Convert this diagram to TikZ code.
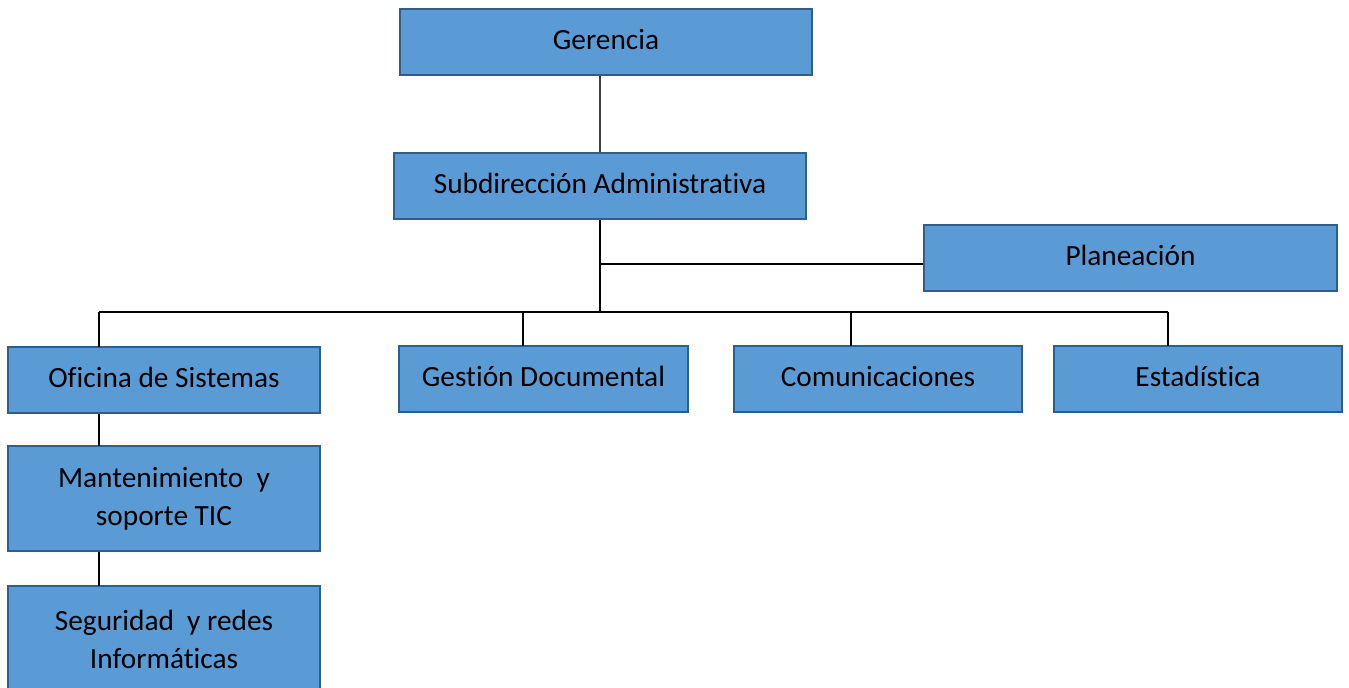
\documentclass[tikz,border=0pt]{standalone}
\usepackage{fontspec}
\setmainfont{Carlito}[Ligatures=CommonOff]
\definecolor{boxfill}{HTML}{5B9BD5}
\definecolor{boxline}{HTML}{2F5D8C}
\definecolor{greyline}{HTML}{404040}
\begin{document}
\begin{tikzpicture}[x=0.75pt,y=-0.75pt,
  box/.style={draw=boxline, fill=boxfill, line width=1.8pt, rectangle, inner sep=0pt,
    align=center, font=\fontsize{22}{28.5}\selectfont, text=black},
  onebox/.style={box, text height=15pt, text depth=3.5pt},
  conn/.style={draw=black, line width=1.1pt},
  gconn/.style={draw=greyline, line width=1.1pt}]
\useasboundingbox (0,0) rectangle (1349,687);
\clip (0,0) rectangle (1349,687);
\node[onebox, minimum width=309pt, minimum height=49.5pt] (ger) at (606,42) {Gerencia};
\node[onebox, minimum width=309pt, minimum height=49.5pt] (sub) at (600,186) {Subdirección Administrativa};
\node[onebox, minimum width=309.75pt, minimum height=49.5pt] (pla) at (1130.5,258) {Planeación};
\node[onebox, minimum width=234pt, minimum height=49.5pt] (ofi) at (164,380) {Oficina de Sistemas};
\node[onebox, minimum width=216.75pt, minimum height=49.5pt] (ges) at (543.5,379) {Gestión Documental};
\node[onebox, minimum width=216pt, minimum height=49.5pt] (com) at (878,379) {Comunicaciones};
\node[onebox, minimum width=216pt, minimum height=49.5pt] (est) at (1198,379) {Estadística};
\node[box, minimum width=234pt, minimum height=78.75pt] (man) at (164,498.5) {Mantenimiento\ \ y\\soporte TIC};
\node[box, minimum width=234pt, minimum height=79.5pt] (seg) at (164,639) {Seguridad\ \ y redes\\Informáticas};
\coordinate (bus) at (600,312);
\coordinate (pj) at (600,264);
\draw[gconn] (ger.south -| sub.south) -- (sub.north);
\draw[conn] (sub.south) -- (bus);
\draw[conn] (pj) -- (pj -| pla.west);
\draw[conn] (99,312) -- (1168,312);
\draw[conn] (99,312) -- (99,347);
\draw[conn] (523,312) -- (523,346);
\draw[conn] (851,312) -- (851,346);
\draw[conn] (1168,312) -- (1168,346);
\draw[conn] (99,413.5) -- (99,446);
\draw[conn] (99,551.5) -- (99,586);
\end{tikzpicture}
\end{document}
